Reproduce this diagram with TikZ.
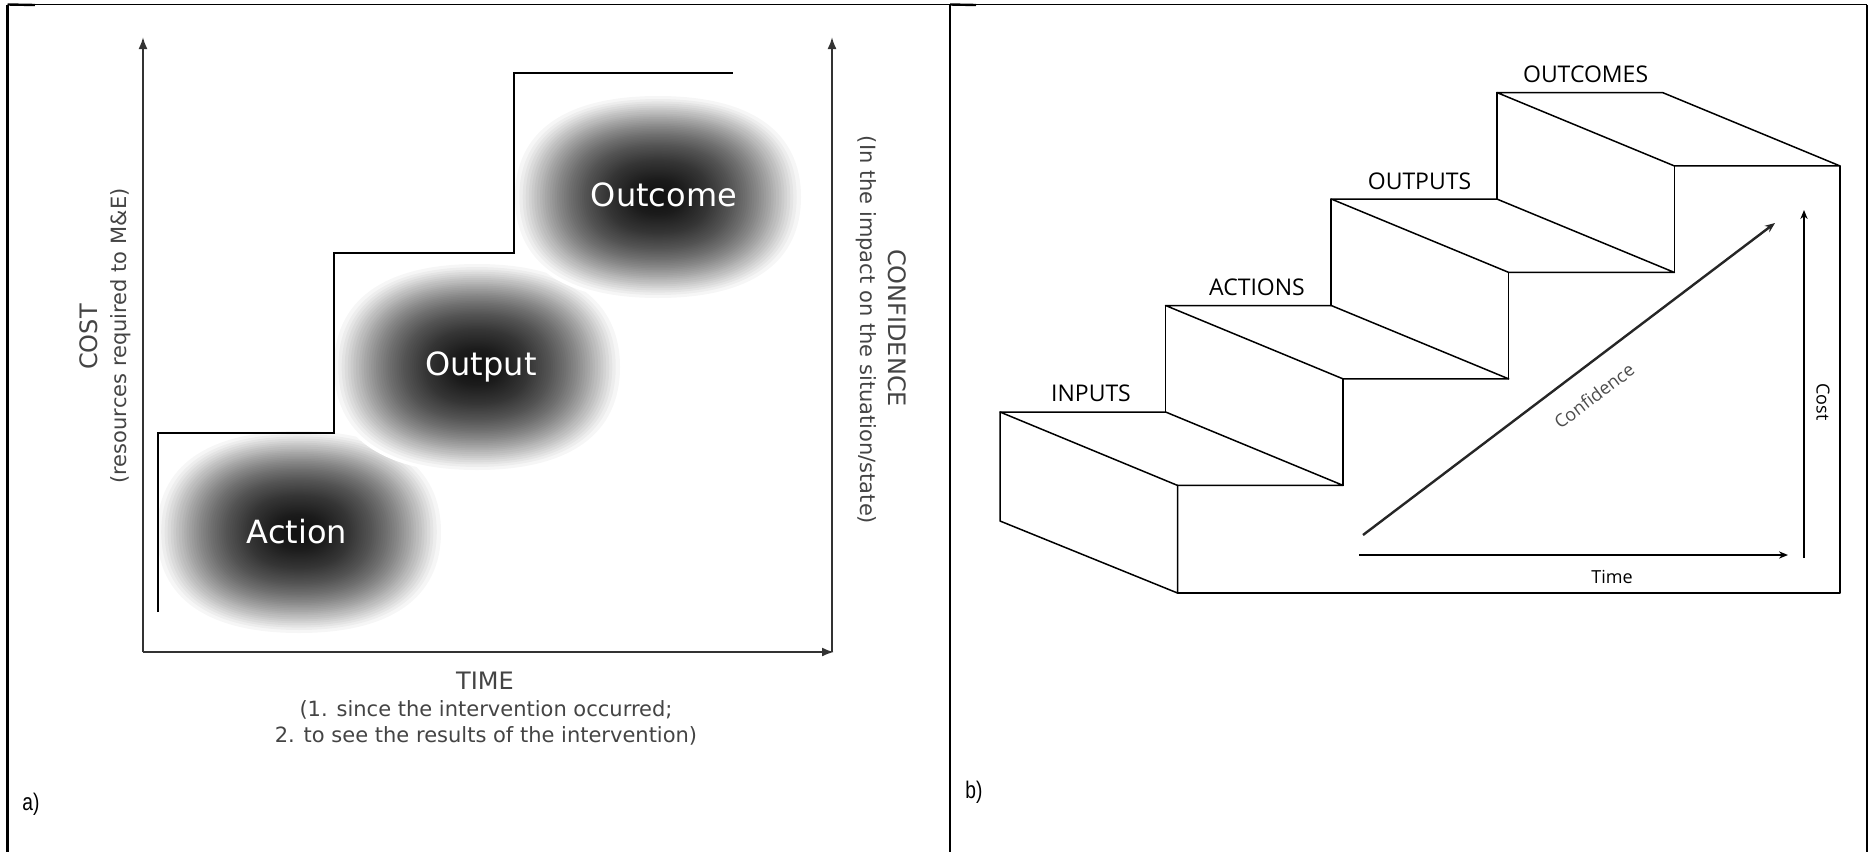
\documentclass[tikz,border=0pt]{standalone}
\usepackage{fontspec}
\setmainfont{DejaVu Sans}
\newfontfamily\stairfont{Open Sans}
\newfontfamily\tagfont[FakeStretch=0.8]{Liberation Sans}
\usetikzlibrary{arrows.meta}

\definecolor{axisgray}{HTML}{333333}
\definecolor{textgray}{HTML}{444444}

% unit rounded outline used for the shaded clouds
\def\squirclepath{(1,0) .. controls (1,0.65) and (0.65,1) .. (0,1)
  .. controls (-0.65,1) and (-1,0.65) .. (-1,0)
  .. controls (-1,-0.65) and (-0.65,-1) .. (0,-1)
  .. controls (0.65,-1) and (1,-0.65) .. (1,0) -- cycle}

% soft cloud: thin white halo, then stacked translucent layers
% (centre x, centre y, radius x, radius y)
\newcommand\cloud[4]{%
  \pgfmathsetmacro\halox{1.03*#3}%
  \pgfmathsetmacro\haloy{1.03*#4}%
  \fill[white, shift={(#1,#2)}, xscale=\halox, yscale=\haloy] \squirclepath;
  \foreach \i in {0,...,59}{%
    \pgfmathsetmacro\cloudf{1-0.94*(\i/59)^0.85}%
    \pgfmathsetmacro\cloudsx{\cloudf*#3}%
    \pgfmathsetmacro\cloudsy{\cloudf*#4}%
    \fill[black, fill opacity=0.034, shift={(#1,#2)}, xscale=\cloudsx, yscale=\cloudsy] \squirclepath;
  }%
}

\begin{document}
\begin{tikzpicture}[x=0.5pt, y=-0.5pt,
  cellrule/.style={line width=1.3pt, black},
  toprule/.style={line width=0.6pt, black},
  tabrule/.style={line width=1.2pt, black},
  axis/.style={line width=1pt, draw=axisgray, -{Latex[length=6pt,width=4.5pt]}},
  stairline/.style={line width=1pt, black},
  edge/.style={line width=0.75pt, black, line cap=round, line join=round},
  smallarrow/.style={line width=0.75pt, black, -{Stealth[length=4.5pt,width=3.6pt]}},
  boldarrow/.style={line width=1.2pt, black!85, -{Stealth[length=5pt,width=4pt]}},
  cloudtext/.style={inner sep=0pt, anchor=base, text=white, font=\fontsize{16}{19}\selectfont},
  axistitle/.style={inner sep=0pt, text=textgray, font=\fontsize{12}{14}\selectfont},
  axisnote/.style={inner sep=0pt, text=textgray, font=\fontsize{10.5}{12}\selectfont},
  stairtext/.style={inner sep=0pt, anchor=base, font=\stairfont\fontsize{11.5}{13}\selectfont},
  smalltext/.style={inner sep=0pt, font=\stairfont\fontsize{9}{11}\selectfont},
  tag/.style={inner sep=0pt, anchor=base west, font=\tagfont\fontsize{12}{14}\selectfont}]

\useasboundingbox (0,0) rectangle (1874,852);
\fill[white] (0,0) rectangle (1874,852);

% ---- table frame ----
\coordinate (tl) at (7.5,4.5);
\coordinate (tm) at (950,4.5);
\coordinate (tr) at (1867,4.5);
\coordinate (bl) at (7.5,852);
\coordinate (bm) at (950,852);
\coordinate (br) at (1867,852);
\coordinate (tlx) at (35,5);
\coordinate (tmx) at (976,5);
\draw[toprule] (tl) -- (tr);
\draw[cellrule] (tl) -- (bl);
\draw[cellrule] (tm) -- (bm);
\draw[cellrule] (tr) -- (br);
\draw[tabrule] (tl) -- (tlx);
\draw[tabrule] (tm) -- (tmx);

% ---- panel a: clouds ----
\cloud{299}{532}{142}{101}
\cloud{477}{367}{143}{103}
\cloud{658}{197}{143}{101}

\node[cloudtext] (action)  at (297,543) {Action};
\node[cloudtext] (output)  at (481,375) {Output};
\node[cloudtext] (outcome) at (664,206) {Outcome};

% ---- panel a: staircase ----
\coordinate (s0) at (158,612);
\coordinate (s1) at (158,433);
\coordinate (s2) at (334,433);
\coordinate (s3) at (334,253);
\coordinate (s4) at (514,253);
\coordinate (s5) at (514,73);
\coordinate (s6) at (733,73);
\draw[stairline] (s0) -- (s1) -- (s2) -- (s3) -- (s4) -- (s5) -- (s6);

% ---- panel a: axes ----
\coordinate (o)  at (143,652);
\coordinate (yt) at (143,37);
\coordinate (xt) at (834,652);
\coordinate (ro) at (832,652);
\coordinate (rt) at (832,37);
\draw[axis] (o) -- (yt);
\draw[axis] (o) -- (xt);
\draw[axis] (ro) -- (rt);

\node[axistitle, rotate=90]  (cost)     at (89,337)  {COST};
\node[axisnote,  rotate=90]  (costnote) at (121,336) {(resources required to M\&E)};
\node[axistitle, rotate=-90] (conf)     at (897,328) {CONFIDENCE};
\node[axisnote,  rotate=-90] (confnote) at (866,330) {(In the impact on the situation/state)};

\node[axistitle, anchor=base] (time)   at (485,689) {TIME};
\node[axisnote,  anchor=base] (timea)  at (486,716) {(1. since the intervention occurred;};
\node[axisnote,  anchor=base] (timeb)  at (486,742) {2. to see the results of the intervention)};

\node[tag] (taga) at (22,810) {a)};

% ---- panel b: staircase corners ----
% back edges of the treads
\coordinate (b0)  at (1000,412);    \coordinate (br0) at (1165.6,412);
\coordinate (b1)  at (1165.6,305.5);\coordinate (br1) at (1331.2,305.5);
\coordinate (b2)  at (1331.2,199);  \coordinate (br2) at (1496.8,199);
\coordinate (b3)  at (1496.8,92.5); \coordinate (br3) at (1662.4,92.5);
% front edges of the treads
\coordinate (f0)  at (1177.5,485.4);\coordinate (fr0) at (1343.1,485.4);
\coordinate (f1)  at (1343.1,378.9);\coordinate (fr1) at (1508.7,378.9);
\coordinate (f2)  at (1508.7,272.4);\coordinate (fr2) at (1674.3,272.4);
\coordinate (f3)  at (1674.3,165.9);\coordinate (fr3) at (1839.9,165.9);
% base
\coordinate (lb)  at (1000,521);
\coordinate (fb)  at (1177.5,593);
\coordinate (rb)  at (1839.9,593);

% left side face
\draw[edge] (b0) -- (lb) -- (fb) -- (f0) -- cycle;
% treads
\draw[edge] (b0) -- (br0) -- (fr0) -- (f0);
\draw[edge] (b1) -- (br1) -- (fr1) -- (f1) -- (b1);
\draw[edge] (b2) -- (br2) -- (fr2) -- (f2) -- (b2);
\draw[edge] (b3) -- (br3) -- (fr3) -- (f3) -- (b3);
% back risers
\draw[edge] (b1) -- (br0);
\draw[edge] (b2) -- (br1);
\draw[edge] (b3) -- (br2);
% front risers
\draw[edge] (f1) -- (fr0);
\draw[edge] (f2) -- (fr1);
\draw[edge] (f3) -- (fr2);
% front bottom and right side
\draw[edge] (fb) -- (rb) -- (fr3);

\node[stairtext] (inputs)   at (1091,401)  {INPUTS};
\node[stairtext] (actions)  at (1257,295)  {ACTIONS};
\node[stairtext] (outputs)  at (1419.5,189){OUTPUTS};
\node[stairtext] (outcomes) at (1585.6,82.6){OUTCOMES};

% ---- panel b: arrows ----
\coordinate (c0) at (1363,535);
\coordinate (c1) at (1775,223);
\coordinate (t0) at (1359,555);
\coordinate (t1) at (1788,555);
\coordinate (k0) at (1804,558);
\coordinate (k1) at (1804,210);
\draw[boldarrow]  (c0) -- (c1);
\draw[smallarrow] (t0) -- (t1);
\draw[smallarrow] (k0) -- (k1);

\node[smalltext, rotate=37, text=black!70] (conflbl) at (1594,396) {Confidence};
\node[smalltext, anchor=base] (timelbl) at (1612,583) {Time};
\node[smalltext, rotate=-90] (costlbl) at (1823,402) {Cost};

\node[tag] (tagb) at (965,798) {b)};
\end{tikzpicture}
\end{document}
